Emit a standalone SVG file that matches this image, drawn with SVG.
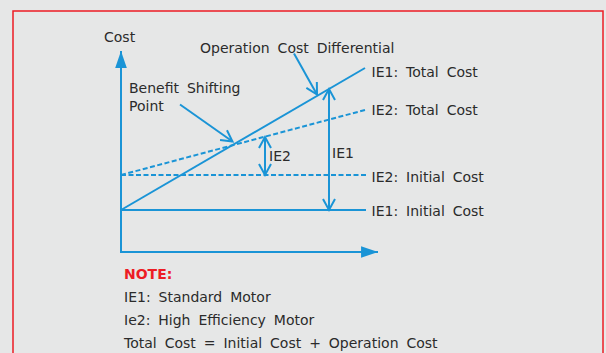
<svg xmlns="http://www.w3.org/2000/svg" width="606" height="353" viewBox="0 0 606 353">
<defs>
<style>
.bg{fill:#e6e7e7}
.frame{fill:none;stroke:#ed1c24;stroke-width:1.5}
.ln{fill:none;stroke:#1a94d6;stroke-width:2}
.dash{fill:none;stroke:#1a94d6;stroke-width:2;stroke-dasharray:5 2.5}
.t{font-family:"DejaVu Sans",sans-serif;font-size:14px;fill:#2b2b2b;word-spacing:3.5px}
.note{font-family:"DejaVu Sans",sans-serif;font-size:14px;font-weight:bold;fill:#ed1c24}
</style>
<marker id="open" markerUnits="userSpaceOnUse" markerWidth="16" markerHeight="16" viewBox="-12 -8 14 16" refX="0" refY="0" orient="auto-start-reverse">
<path d="M-11,-6 L0,0 L-11,6" fill="none" stroke="#1a94d6" stroke-width="2"/>
</marker>
<marker id="solid" markerUnits="userSpaceOnUse" markerWidth="18" markerHeight="14" viewBox="-16 -6 17 12" refX="0" refY="0" orient="auto">
<path d="M-16,-5.5 L0,0 L-16,5.5 Z" fill="#1a94d6"/>
</marker>
</defs>
<rect class="bg" x="0" y="0" width="606" height="353"/>
<rect class="frame" x="13" y="11" width="590" height="360"/>

<g id="connectors">
<path class="ln" d="M121,252 L121,51" marker-end="url(#solid)"/>
<path class="ln" d="M120,252 L378,252" marker-end="url(#solid)"/>
<path class="ln" d="M121,210 L366,210"/>
<path class="dash" d="M121,175 L366,175"/>
<path class="ln" d="M121,210 L365,68"/>
<path class="dash" d="M121,175 L365,110"/>
<path class="ln" d="M180,104.5 L232.5,141.5" marker-end="url(#open)"/>
<path class="ln" d="M294,53.5 L317,94.5" marker-end="url(#open)"/>
<path class="ln" d="M329,89 L329,210" marker-start="url(#open)" marker-end="url(#open)"/>
<path class="ln" d="M265,137 L265,175" marker-start="url(#open)" marker-end="url(#open)"/>
</g>

<g id="axis-label"><text class="t" x="104" y="42">Cost</text></g>
<g id="op-diff"><text class="t" x="200" y="52.5">Operation Cost Differential</text></g>
<g id="benefit"><text class="t" x="129" y="92.5">Benefit Shifting</text><text class="t" x="129" y="110.5">Point</text></g>
<g id="ie1-total"><text class="t" x="371.5" y="76.5">IE1: Total Cost</text></g>
<g id="ie2-total"><text class="t" x="371.5" y="115">IE2: Total Cost</text></g>
<g id="ie2-initial"><text class="t" x="371.5" y="181.5">IE2: Initial Cost</text></g>
<g id="ie1-initial"><text class="t" x="371.5" y="215.5">IE1: Initial Cost</text></g>
<g id="ie1-diff"><text class="t" x="332" y="157.5">IE1</text></g>
<g id="ie2-diff"><text class="t" x="269" y="161">IE2</text></g>
<g id="notes">
<text class="note" x="124" y="278.5">NOTE:</text>
<text class="t" x="124" y="301.5">IE1: Standard Motor</text>
<text class="t" x="124" y="325">Ie2: High Efficiency Motor</text>
<text class="t" x="124" y="347.5">Total Cost = Initial Cost + Operation Cost</text>
</g>
</svg>
